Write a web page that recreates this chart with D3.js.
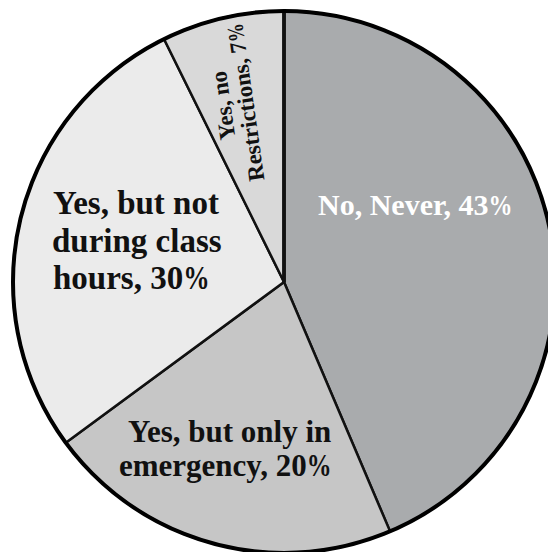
<!DOCTYPE html>
<html>
<head>
<meta charset="utf-8">
<script src="https://cdn.jsdelivr.net/npm/d3@7"></script>
<style>
  html, body { margin: 0; padding: 0; background: #fff; }
  svg { display: block; }
</style>
</head>
<body>
<svg id="chart" width="548" height="552"></svg>
<script>
// ---- data ----
const categories = ["No, Never", "Yes, but only in emergency", "Yes, but not during class hours", "Yes, no Restrictions"];
const values = [43.6, 21.3, 27.8, 7.3];            // slice sizes as drawn
const percentLabels = ["43", "20", "30", "7"];     // printed percentages
const labelLines = [
  ["No, Never, 43%"],
  ["Yes, but only in", "emergency, 20%"],
  ["Yes, but not", "during class", "hours, 30%"],
  ["Yes, no", "Restrictions, 7%"]
];
const colors = ["#a9abad", "#c6c6c6", "#ebebeb", "#d9d9d9"];

// ---- layout ----
const cx = 284, cy = 282, R = 271;
const svg = d3.select("#chart");
const g = svg.append("g").attr("transform", `translate(${cx},${cy})`);

const pie = d3.pie().sort(null).value(d => d.v).startAngle(0).endAngle(2 * Math.PI);
const arcs = pie(values.map((v, i) => ({ v, i })));
const arc = d3.arc().innerRadius(0).outerRadius(R);

g.selectAll("path.slice")
  .data(arcs)
  .enter().append("path")
  .attr("class", "slice")
  .attr("d", arc)
  .attr("fill", d => colors[d.data.i])
  .attr("stroke", "#111")
  .attr("stroke-width", 2.5)
  .attr("stroke-linejoin", "round");

// heavier edge at the start of the first slice (12 o'clock)
const a0 = arcs[0].startAngle;
g.append("line")
  .attr("x1", 0).attr("y1", 0)
  .attr("x2", R * Math.sin(a0)).attr("y2", -R * Math.cos(a0))
  .attr("stroke", "#111").attr("stroke-width", 3.8);

g.append("circle").attr("r", R).attr("fill", "none")
  .attr("stroke", "#000").attr("stroke-width", 4);

// ---- labels ----
const font = "'Liberation Serif', 'Times New Roman', serif";
const labelStyle = [
  { size: 30, fill: "#fff", anchor: "start", xs: [318], ys: [215] },
  { size: 31, fill: "#111", anchor: "start", xs: [128, 119], ys: [442, 476] },
  { size: 33, fill: "#111", anchor: "start", xs: [53, 52, 53], ys: [214, 252, 289] },
  { size: 23, fill: "#111", anchor: "middle", cx: 234, cy: 104, lh: 23, rot: -98 }
];

function addLine(textSel, str, size) {
  // render "%" narrower, like the reference glyph
  const idx = str.indexOf("%");
  if (idx < 0) { textSel.append("tspan").text(str); return; }
  textSel.append("tspan").text(str.slice(0, idx));
  textSel.append("tspan").text("%")
    .attr("textLength", size * 0.8).attr("lengthAdjust", "spacingAndGlyphs");
}

labelLines.forEach((lines, i) => {
  const s = labelStyle[i];
  if (s.rot) {
    const grp = svg.append("g").attr("transform", `translate(${s.cx},${s.cy}) rotate(${s.rot})`);
    lines.forEach((ln, j) => {
      const t = grp.append("text")
        .attr("font-family", font).attr("font-weight", "bold")
        .attr("font-size", s.size).attr("fill", s.fill)
        .attr("text-anchor", s.anchor)
        .attr("x", 0)
        .attr("y", (j - (lines.length - 1) / 2) * s.lh + s.size * 0.35);
      addLine(t, ln, s.size);
    });
  } else {
    lines.forEach((ln, j) => {
      const t = svg.append("text")
        .attr("font-family", font).attr("font-weight", "bold")
        .attr("font-size", s.size).attr("fill", s.fill)
        .attr("text-anchor", s.anchor)
        .attr("x", s.xs[j]).attr("y", s.ys[j]);
      addLine(t, ln, s.size);
    });
  }
});
</script>
</body>
</html>
